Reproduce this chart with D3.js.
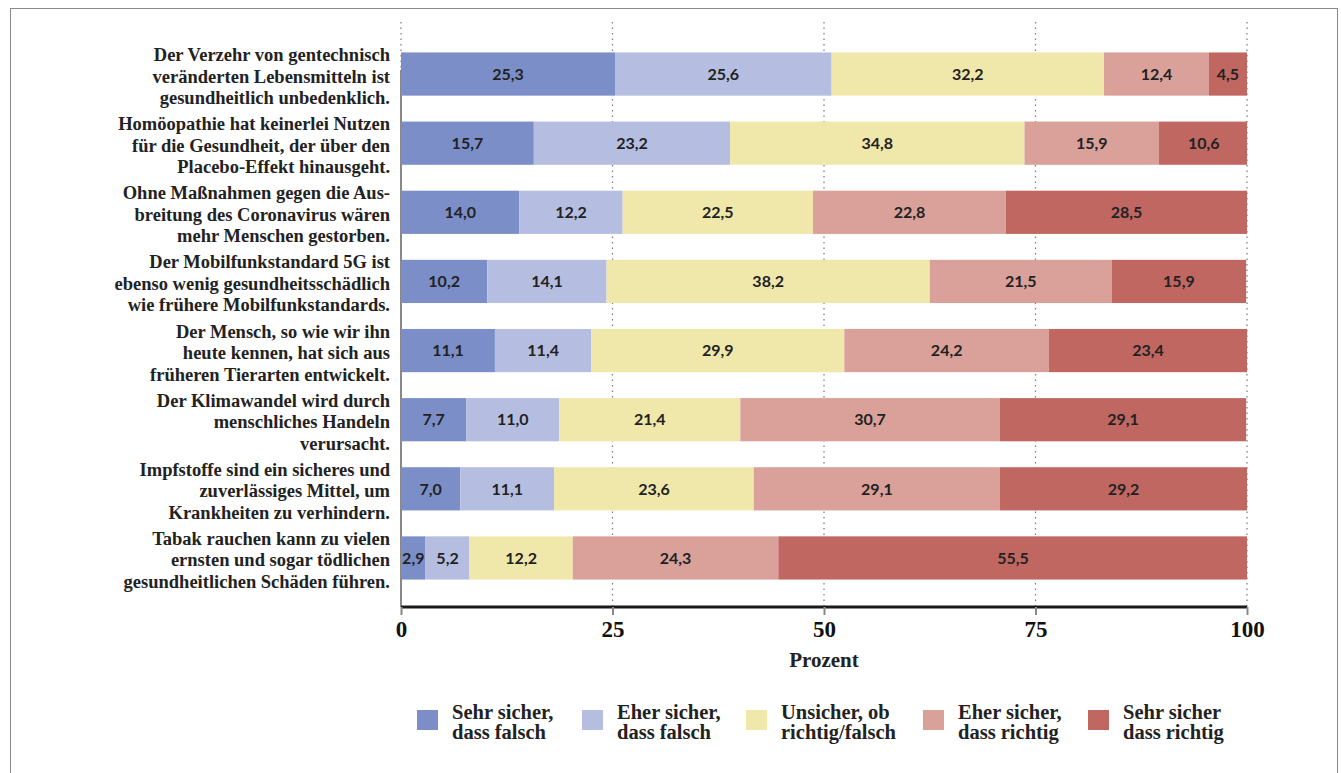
<!DOCTYPE html>
<html>
<head>
<meta charset="utf-8">
<script src="https://cdn.jsdelivr.net/npm/d3@7"></script>
<style>
  body { margin: 0; background: #fff; }
  svg { display: block; }
</style>
</head>
<body>
<div id="chart"></div>
<script>
// Aussagen (je drei Zeilen)
const statements = [
    ["Der Verzehr von gentechnisch", "veränderten Lebensmitteln ist", "gesundheitlich unbedenklich."],
    ["Homöopathie hat keinerlei Nutzen", "für die Gesundheit, der über den", "Placebo-Effekt hinausgeht."],
    ["Ohne Maßnahmen gegen die Aus-", "breitung des Coronavirus wären", "mehr Menschen gestorben."],
    ["Der Mobilfunkstandard 5G ist", "ebenso wenig gesundheitsschädlich", "wie frühere Mobilfunkstandards."],
    ["Der Mensch, so wie wir ihn", "heute kennen, hat sich aus", "früheren Tierarten entwickelt."],
    ["Der Klimawandel wird durch", "menschliches Handeln", "verursacht."],
    ["Impfstoffe sind ein sicheres und", "zuverlässiges Mittel, um", "Krankheiten zu verhindern."],
    ["Tabak rauchen kann zu vielen", "ernsten und sogar tödlichen", "gesundheitlichen Schäden führen."]
]

const categories = ["sehrFalsch", "eherFalsch", "unsicher", "eherRichtig", "sehrRichtig"]
const legendLabels = [
    ["Sehr sicher,", "dass falsch"],
    ["Eher sicher,", "dass falsch"],
    ["Unsicher, ob", "richtig/falsch"],
    ["Eher sicher,", "dass richtig"],
    ["Sehr sicher", "dass richtig"]
]

const sehrFalsch  = [25.3, 15.7, 14.0, 10.2, 11.1, 7.7, 7.0, 2.9]
const eherFalsch  = [25.6, 23.2, 12.2, 14.1, 11.4, 11.0, 11.1, 5.2]
const unsicher    = [32.2, 34.8, 22.5, 38.2, 29.9, 21.4, 23.6, 12.2]
const eherRichtig = [12.4, 15.9, 22.8, 21.5, 24.2, 30.7, 29.1, 24.3]
const sehrRichtig = [4.5, 10.6, 28.5, 15.9, 23.4, 29.1, 29.2, 55.5]

const xTicks = [0, 25, 50, 75, 100]
const colors = ["#7b8ec8", "#b5bee0", "#f0e7aa", "#d9a199", "#c06762"]

const width = 1341, height = 773
const serif = "'Liberation Serif', 'DejaVu Serif', serif"

const svg = d3.select("#chart").append("svg")
    .attr("width", width)
    .attr("height", height)

// Rahmen
svg.append("rect")
    .attr("x", 10.5).attr("y", 8.5)
    .attr("width", 1327).attr("height", 780)
    .attr("fill", "none")
    .attr("stroke", "#8a8a8a")
    .attr("stroke-width", 1)

const rows = statements.map((s, i) => ({
    idx: i,
    values: [sehrFalsch[i], eherFalsch[i], unsicher[i], eherRichtig[i], sehrRichtig[i]]
}))

const x = d3.scaleLinear().domain([0, 100]).range([401, 1247])
const y = d3.scaleBand()
    .domain(d3.range(statements.length))
    .range([40, 592])
    .paddingInner(0.375)
    .paddingOuter(0.18)

const axisY = 607

// gepunktete Gitterlinien
svg.append("g").selectAll("line")
    .data(xTicks)
    .join("line")
    .attr("x1", d => x(d)).attr("x2", d => x(d))
    .attr("y1", 22).attr("y2", axisY)
    .attr("stroke", "#777")
    .attr("stroke-width", 1.2)
    .attr("stroke-dasharray", "1.5,4")

// linke Achsenlinie (hinter den Balken)
svg.append("line")
    .attr("x1", x(0)).attr("x2", x(0))
    .attr("y1", 70).attr("y2", axisY)
    .attr("stroke", "#888")
    .attr("stroke-width", 2)

// Balken
const rowG = svg.append("g").selectAll("g")
    .data(rows)
    .join("g")
    .attr("transform", d => `translate(0, ${y(d.idx)})`)

rowG.each(function(row) {
    let cum = 0
    const segs = row.values.map((v, k) => {
        const s = { start: cum, value: v, k: k }
        cum += v
        return s
    })
    const g = d3.select(this)
    g.selectAll("rect")
        .data(segs)
        .join("rect")
        .attr("x", d => x(d.start))
        .attr("width", d => x(Math.min(100, d.start + d.value)) - x(d.start))
        .attr("height", y.bandwidth())
        .attr("fill", d => colors[d.k])

    g.selectAll("text")
        .data(segs)
        .join("text")
        .attr("x", d => x(d.start + d.value / 2))
        .attr("y", y.bandwidth() / 2)
        .attr("dy", "0.36em")
        .attr("text-anchor", "middle")
        .attr("font-family", "Lato, 'Open Sans', sans-serif")
        .attr("font-weight", "bold")
        .attr("font-size", 16)
        .attr("fill", "#222")
        .text(d => d.value.toFixed(1).replace(".", ","))
})

// Beschriftungen links
svg.append("g").selectAll("text")
    .data(rows)
    .join("text")
    .attr("x", 390)
    .attr("y", d => y(d.idx) + y.bandwidth() / 2)
    .attr("text-anchor", "end")
    .attr("font-family", serif)
    .attr("font-weight", "bold")
    .attr("font-size", 18.5)
    .attr("fill", "#222")
    .each(function(d) {
        const t = d3.select(this)
        statements[d.idx].forEach((line, j) => {
            t.append("tspan")
                .attr("x", 390)
                .attr("dy", j === 0 ? -13 : 21.5)
                .text(line)
        })
    })

// x-Achse
const xAxis = svg.append("g")
    .attr("transform", `translate(0, ${axisY})`)
    .call(d3.axisBottom(x).tickValues(xTicks).tickSize(8).tickPadding(6))

xAxis.select(".domain")
    .attr("d", `M${x(0)},0H${x(100)}`)
    .attr("stroke", "#1a1a1a")
    .attr("stroke-width", 3)
xAxis.selectAll(".tick line")
    .attr("stroke", "#888")
    .attr("stroke-width", 2)
xAxis.selectAll("text")
    .attr("font-family", serif)
    .attr("font-size", 23)
    .attr("font-weight", 600)
    .attr("fill", "#111")

svg.append("text")
    .attr("x", x(50))
    .attr("y", 667)
    .attr("text-anchor", "middle")
    .attr("font-family", serif)
    .attr("font-weight", "bold")
    .attr("font-size", 21)
    .attr("fill", "#222")
    .text("Prozent")

// Legende
const legendX = [417, 582, 746, 923, 1088]
const legend = svg.append("g").selectAll("g")
    .data(categories)
    .join("g")
    .attr("transform", (d, i) => `translate(${legendX[i]}, 710)`)

legend.append("rect")
    .attr("width", 21).attr("height", 20)
    .attr("fill", (d, i) => colors[i])

legend.append("text")
    .attr("font-family", serif)
    .attr("font-weight", "bold")
    .attr("font-size", 20.5)
    .attr("fill", "#222")
    .each(function(d, i) {
        const t = d3.select(this)
        legendLabels[i].forEach((line, j) => {
            t.append("tspan")
                .attr("x", 35)
                .attr("y", j === 0 ? 9 : 29)
                .text(line)
        })
    })
</script>
</body>
</html>
